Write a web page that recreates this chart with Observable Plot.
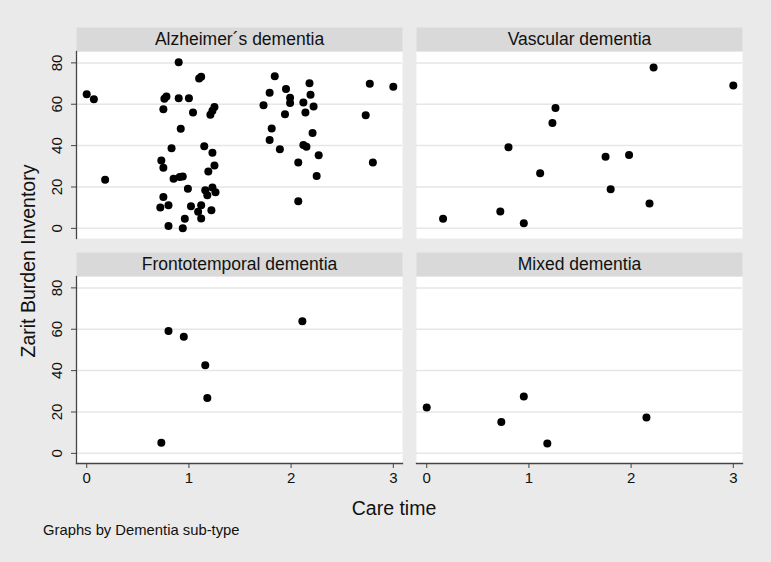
<!DOCTYPE html>
<html>
<head>
<meta charset="utf-8">
<script src="https://cdn.jsdelivr.net/npm/d3@7"></script>
<script src="https://cdn.jsdelivr.net/npm/@observablehq/plot@0.6"></script>
<style>
  html, body { margin: 0; padding: 0; background: #eaeaea; }
  #wrap { position: relative; width: 771px; height: 562px; overflow: hidden; font-family: "Liberation Sans", Arial, sans-serif; color: #111; }
  #chart { position: absolute; left: 0; top: 0; }
  .lbl { position: absolute; white-space: nowrap; }
</style>
</head>
<body>
<div id="wrap">
  <div id="chart"></div>
  <div class="lbl" id="ylab" style="left:28px; top:261px; font-size:19.5px; transform: translate(-50%,-50%) rotate(-90deg);">Zarit Burden Inventory</div>
  <div class="lbl" id="xlab" style="left:394px; top:508px; font-size:19.5px; transform: translate(-50%,-50%);">Care time</div>
  <div class="lbl" id="cap" style="left:43px; top:530px; font-size:14.8px; transform: translate(0,-50%);">Graphs by Dementia sub-type</div>
</div>
<script>
// Panel names
const groups = ["Alzheimer´s dementia", "Vascular dementia", "Frontotemporal dementia", "Mixed dementia"];
const groupCol = ["L", "R", "L", "R"];
const groupRow = ["T", "T", "B", "B"];

// Axis ticks
const xTicks = [0, 1, 2, 3];
const yTicks = [0, 20, 40, 60, 80];

// Alzheimer's dementia
const alzCare  = [0.00, 0.07, 0.18, 0.90, 1.10, 1.12, 0.75, 0.76, 0.78, 0.90, 1.00, 1.04, 1.25, 1.23, 1.21,
                  0.92, 0.83, 1.15, 1.23, 0.73, 0.75, 1.25, 1.19, 0.85, 0.91, 0.94, 0.99, 1.23, 1.16, 1.18, 1.26,
                  0.75, 0.72, 0.80, 1.02, 1.12, 1.09, 1.12, 1.22, 0.96, 0.80, 0.94,
                  1.84, 1.79, 1.95, 1.99, 1.99, 2.18, 2.19, 2.12, 2.22, 2.14, 1.94, 1.73, 1.81, 1.79, 1.89,
                  2.21, 2.12, 2.15, 2.27, 2.07, 2.25, 2.07, 2.77, 3.00, 2.73, 2.80];
const alzZarit = [64.8, 62.4, 23.5, 80.3, 72.5, 73.3, 57.6, 62.7, 63.7, 62.9, 62.9, 56.0, 58.7, 56.8, 54.9,
                  48.2, 38.7, 39.7, 36.5, 32.8, 29.3, 30.4, 27.5, 24.0, 24.8, 25.1, 19.2, 19.8, 18.4, 16.0, 17.4,
                  15.2, 10.1, 11.2, 10.7, 11.2, 8.0, 4.8, 8.8, 4.6, 1.1, 0.1,
                  73.5, 65.5, 67.4, 63.2, 60.6, 70.1, 64.6, 60.8, 58.9, 56.0, 55.2, 59.5, 48.3, 42.7, 38.2,
                  46.1, 40.3, 39.5, 35.3, 31.8, 25.3, 13.1, 69.9, 68.5, 54.7, 31.8];

// Vascular dementia
const vasCare  = [0.16, 0.72, 0.95, 0.80, 1.11, 1.23, 1.26, 1.75, 1.98, 1.80, 2.18, 2.22, 3.00];
const vasZarit = [4.6, 8.2, 2.5, 39.2, 26.7, 50.9, 58.2, 34.6, 35.5, 18.9, 12.0, 77.8, 69.1];

// Frontotemporal dementia
const ftdCare  = [0.80, 0.95, 1.16, 1.18, 0.73, 2.11];
const ftdZarit = [59.1, 56.4, 42.6, 26.8, 5.1, 63.9];

// Mixed dementia
const mixCare  = [0.00, 0.73, 0.95, 1.18, 2.15];
const mixZarit = [22.2, 15.2, 27.5, 4.8, 17.3];

const series = [[alzCare, alzZarit], [vasCare, vasZarit], [ftdCare, ftdZarit], [mixCare, mixZarit]];
const points = [];
series.forEach(([xs, ys], g) => xs.forEach((x, i) => points.push({group: groups[g], col: groupCol[g], row: groupRow[g], care: x, zarit: ys[i]})));
const panels = groups.map((name, g) => ({name, col: groupCol[g], row: groupRow[g]}));

const W = 771, H = 562;
const chart = Plot.plot({
  width: W,
  height: H,
  marginLeft: 76,
  marginRight: 28,
  marginTop: 51,
  marginBottom: 99,
  style: {background: "transparent", fontFamily: "'Liberation Sans', Arial, sans-serif", color: "#111", overflow: "visible"},
  fx: {domain: ["L", "R"], axis: null, paddingInner: 0.0411, paddingOuter: 0},
  fy: {domain: ["T", "B"], axis: null, paddingInner: 0.169, paddingOuter: 0},
  x: {domain: [-0.1, 3.09]},
  y: {domain: [-4.9, 85.5]},
  marks: [
    Plot.frame({fill: "white", stroke: null}),
    Plot.frame({fill: "#d9d9d9", stroke: null, insetTop: -24, insetBottom: 187}),
    Plot.text(panels, {fx: "col", fy: "row", text: "name", frameAnchor: "top", lineAnchor: "middle", dy: -12, fontSize: 17.5, fill: "#111"}),
    Plot.gridY(yTicks, {stroke: "#e6e6e6", strokeOpacity: 1, strokeWidth: 1.5}),
    Plot.frame({anchor: "left", stroke: "#444", strokeWidth: 1.3, facetAnchor: "left"}),
    Plot.frame({anchor: "bottom", stroke: "#444", strokeWidth: 1.3, facetAnchor: "bottom"}),
    Plot.axisY({ticks: yTicks, tickSize: 5, tickFormat: () => "", label: null, stroke: "#444", facetAnchor: "left"}),
    Plot.text(yTicks, {y: d => d, text: d => String(d), frameAnchor: "left", dx: -19, rotate: -90, lineAnchor: "middle", textAnchor: "middle", fontSize: 15, fill: "#111", facetAnchor: "left"}),
    Plot.axisX({ticks: xTicks, tickSize: 5, tickFormat: d3.format("d"), label: null, fontSize: 15, stroke: "#444", fill: "#111", facetAnchor: "bottom"}),
    Plot.dot(points, {fx: "col", fy: "row", x: "care", y: "zarit", r: 4, fill: "black", stroke: null})
  ]
});
document.getElementById("chart").appendChild(chart);
</script>
</body>
</html>
